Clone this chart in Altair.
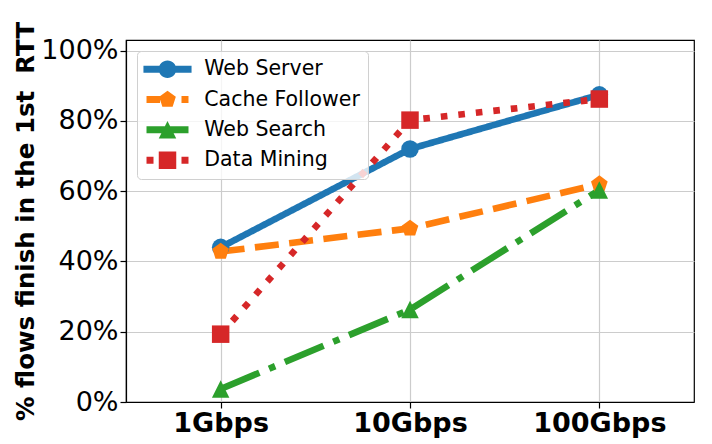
import altair as alt
import pandas as pd

rates = ["1Gbps", "10Gbps", "100Gbps"]
series = ["Web Server", "Cache Follower", "Web Search", "Data Mining"]
style_keys = ["solid-circle", "dashed-pentagon", "dashdot-triangle", "dotted-square"]
web_server = [44.0, 72.0, 87.4]
cache_follower = [42.8, 49.4, 62.0]
web_search = [3.7, 26.3, 60.3]
data_mining = [19.3, 80.2, 86.2]
colors = ["#1f77b4", "#ff7f0e", "#2ca02c", "#d62728"]
y_ticks = [0, 20, 40, 60, 80, 100]

rows = []
for name, key, vals in zip(series, style_keys, [web_server, cache_follower, web_search, data_mining]):
    for r, v in zip(rates, vals):
        rows.append({"rate": r, "series": name, "style": key, "value": v})
df = pd.DataFrame(rows)

PENT = "M0,-1L0.951,-0.309L0.588,0.809L-0.588,0.809L-0.951,-0.309Z"
TRI = "M0,-1L1,1L-1,1Z"
shapes = ["circle", PENT, TRI, "square"]
dashes = [[1, 0], [24, 10.5], [42, 10.5, 6.6, 10.5], [6.6, 11]]

ws_leg = "M-2.75,-0.4H-0.9V0.4H-2.75Z M0.9,-0.4H2.75V0.4H0.9Z M-1,0A1,1 0 1,1 1,0A1,1 0 1,1 -1,0Z"
cf_leg = "M-2.4,-0.4H-0.85V0.4H-2.4Z M1.6,-0.4H2.4V0.4H1.6Z " + PENT
gs_leg = "M-2.4,-0.4H2.4V0.4H-2.4Z " + TRI
dm_leg = "M-2.4,-0.4H-1.6V0.4H-2.4Z M1.6,-0.4H2.4V0.4H1.6Z M-1,-1H1V1H-1Z"
shape_expr = (
    f"datum.value === 'Web Server' ? '{ws_leg}' : "
    f"datum.value === 'Cache Follower' ? '{cf_leg}' : "
    f"datum.value === 'Web Search' ? '{gs_leg}' : '{dm_leg}'"
)

x_enc = alt.X(
    "rate:N", sort=rates, scale=alt.Scale(type="point", padding=0.5),
    axis=alt.Axis(title=None, labelAngle=0, labelFontWeight="bold", labelFontSize=27,
                  labelPadding=2, grid=True),
)
y_enc = alt.Y(
    "value:Q", scale=alt.Scale(domain=[0, 103], nice=False, zero=True),
    axis=alt.Axis(values=y_ticks, labelExpr="datum.value + '%'", labelFontSize=27,
                  labelPadding=2, grid=True,
                  title="% flows finish in the 1st \u00a0RTT", titleFontSize=24.5,
                  titleFontWeight="bold", titleX=-93, titleY=181,
                  titleBaseline="alphabetic", titleAngle=-90, titleAlign="center"),
)
color_scale = alt.Scale(domain=series, range=colors)
legend = alt.Legend(
    title=None, orient="top-left", offset=11, padding=8,
    symbolSize=306, symbolOffset=12.25, labelOffset=26.5, rowPadding=9.3,
    labelFontSize=20.5, labelFont="DejaVu Sans", labelColor="black", labelLimit=300,
    strokeColor="#d0d0d0", fillColor="rgba(255,255,255,0.8)", cornerRadius=4,
    symbolStrokeWidth=0, symbolOpacity=1,
    symbolType=alt.ExprRef(expr=shape_expr),
)

lines = alt.Chart(df).mark_line(strokeWidth=6.6).encode(
    x=x_enc, y=y_enc,
    color=alt.Color("series:N", scale=color_scale, legend=legend),
    strokeDash=alt.StrokeDash("style:N", scale=alt.Scale(domain=style_keys, range=dashes), legend=None),
)

points = alt.Chart(df).mark_point(filled=True, size=306, opacity=1, strokeWidth=0).encode(
    x=x_enc, y=y_enc,
    color=alt.Color("series:N", scale=color_scale, legend=legend),
    shape=alt.Shape("style:N", scale=alt.Scale(domain=style_keys, range=shapes), legend=None),
)

chart = alt.layer(lines, points).properties(
    width=568, height=362,
    padding={"left": 126, "top": 40, "right": 18, "bottom": 42},
    autosize=alt.AutoSizeParams(type="none"),
).configure_view(stroke="black", strokeWidth=1.2).configure_axis(
    labelFont="DejaVu Sans", titleFont="DejaVu Sans", labelColor="black", titleColor="black",
    domainColor="black", domainWidth=1.2, tickColor="black", tickSize=6, tickWidth=1.2,
    gridColor="#cccccc", gridWidth=1.2,
)

chart.save("out.html", embed_options={"renderer": "svg", "actions": False})
